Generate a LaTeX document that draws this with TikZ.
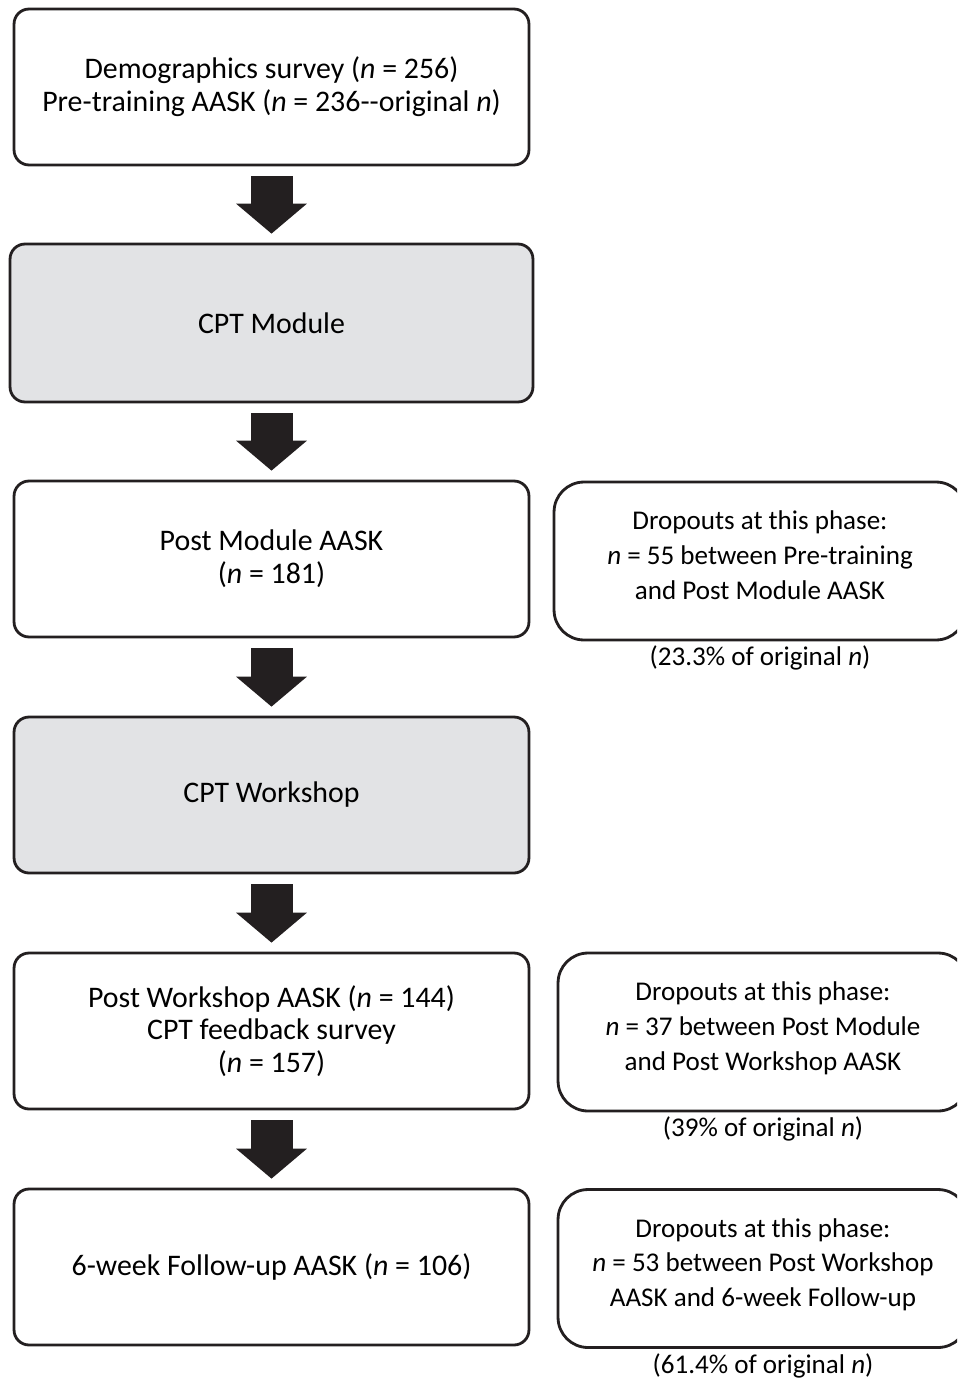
\documentclass[tikz,border=0pt]{standalone}
\usepackage{fontspec}
\setmainfont{Carlito}
\usetikzlibrary{arrows.meta, positioning}
\definecolor{cLINE}{HTML}{231F20}
\definecolor{cPHASE}{HTML}{E2E3E5}
% lines of a dropout box, set a little above the middle
\newcommand{\droplines}[1]{\raisebox{2pt}[\height][\depth]{\begin{tabular}{@{}c@{}}#1\end{tabular}}}
\tikzset{
  stagebox/.style={draw=cLINE, line width=1.6pt, rounded corners=0.3cm,
    minimum width=10.3cm, minimum height=3.12cm, inner sep=0pt,
    align=center, font=\fontsize{17}{18.7}\selectfont},
  phasebox/.style={stagebox, fill=cPHASE},
  dropbox/.style={draw=cLINE, line width=1.6pt, rounded corners=0.6cm,
    minimum width=8.2cm, minimum height=3.16cm, inner sep=0pt,
    font=\fontsize{15.4}{19.8}\selectfont},
  dropnote/.style={inner sep=0pt, font=\fontsize{15.4}{19.8}\selectfont},
  bigarrow/.style={cLINE, line width=0.84cm, shorten <=0.2cm, shorten >=0.18cm,
    -{Triangle[width=1.42cm, length=0.6cm, line width=0pt]}}
}

\begin{document}
\begin{tikzpicture}[x=0.02cm, y=-0.02cm]
  \useasboundingbox (0,0) rectangle (957,1378);
  \clip (0,0) rectangle (957,1378);

  % Main column of stages
  \node[stagebox] (demog) at (271.5,87)
    {Demographics survey (\textit{n} = 256)\\Pre-training AASK (\textit{n} = 236-\kern0pt-original \textit{n})};
  \node[phasebox, minimum width=10.46cm, minimum height=3.16cm] (module) at (271.5,323) {CPT Module};
  \node[stagebox] (postmod) at (271.5,559) {Post Module AASK\\(\textit{n} = 181)};
  \node[phasebox] (workshop) at (271.5,795) {CPT Workshop};
  \node[stagebox] (postws) at (271.5,1031)
    {Post Workshop AASK (\textit{n} = 144)\\CPT feedback survey\\(\textit{n} = 157)};
  \node[stagebox] (follow) at (271.5,1267) {6-week Follow-up AASK (\textit{n} = 106)};

  % Block arrows between stages
  \draw[bigarrow] (demog) -- (module);
  \draw[bigarrow] (module) -- (postmod);
  \draw[bigarrow] (postmod) -- (workshop);
  \draw[bigarrow] (workshop) -- (postws);
  \draw[bigarrow] (postws) -- (follow);

  % Dropout boxes on the right
  \node[dropbox, minimum width=8.24cm] (drop1) at (760,561)
    {\droplines{Dropouts at this phase:\\\textit{n} = 55 between Pre-training\\and Post Module AASK}};
  \node[dropnote, below=0.08cm of drop1] (pct1) {(23.3\% of original \textit{n})};

  \node[dropbox] (drop2) at (763,1032)
    {\droplines{Dropouts at this phase:\\\textit{n} = 37 between Post Module\\and Post Workshop AASK}};
  \node[dropnote, below=0.08cm of drop2] (pct2) {(39\% of original \textit{n})};

  \node[dropbox] (drop3) at (763,1268.5)
    {\droplines{Dropouts at this phase:\\\textit{n} = 53 between Post Workshop\\AASK and 6-week Follow-up}};
  \node[dropnote, below=0.08cm of drop3] (pct3) {(61.4\% of original \textit{n})};
\end{tikzpicture}
\end{document}
